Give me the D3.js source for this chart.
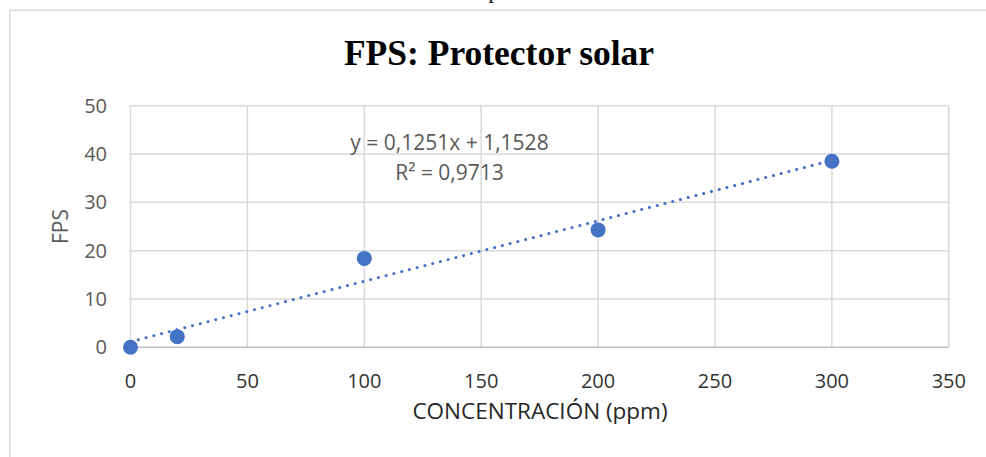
<!DOCTYPE html>
<html>
<head>
<meta charset="utf-8">
<script src="https://cdn.jsdelivr.net/npm/d3@7"></script>
<style>
  html, body { margin: 0; padding: 0; background: #fff; overflow: hidden; }
  text { font-family: "Open Sans", sans-serif; }
</style>
</head>
<body>
<div id="content"></div>
<script>
"use strict";

// values
var concentracion = [0, 20, 100, 200, 300];
var fps = [0, 2.2, 18.4, 24.3, 38.5];
var xTicks = [0, 50, 100, 150, 200, 250, 300, 350];
var yTicks = [0, 10, 20, 30, 40, 50];
var trendSlope = 0.1251;
var trendIntercept = 1.1528;
var trendLabel = ["y = 0,1251x + 1,1528", "R² = 0,9713"];

var width = 986;
var height = 457;
var blue = "#4472C4";

var svg = d3.select('#content').append('svg')
  .attr('width', width)
  .attr('height', height);

// chart frame (cut off at right and bottom)
svg.append('rect')
  .attr('x', 9.75).attr('y', 10.25)
  .attr('width', 1000).attr('height', 500)
  .attr('fill', '#fff')
  .attr('stroke', '#d9d9d9')
  .attr('stroke-width', 1.5);

// bit of the caption above, cut off
svg.append('text')
  .attr('x', 494).attr('y', -2)
  .attr('text-anchor', 'middle')
  .style('font-family', '"Liberation Serif", serif')
  .style('font-size', '22px')
  .attr('fill', '#000')
  .text('p');

var x = d3.scaleLinear().domain([0, 350]).range([130.5, 948.8]);
var y = d3.scaleLinear().domain([0, 50]).range([347.3, 105.7]);

var g = svg.append('g');

// gridlines
g.selectAll('line.hgrid')
  .data(yTicks.filter(function(d) { return d > 0; })).enter()
  .append('line')
  .attr('class', 'hgrid')
  .attr('x1', x(0)).attr('x2', x(350))
  .attr('y1', function(d) { return y(d); })
  .attr('y2', function(d) { return y(d); })
  .attr('stroke', '#d9d9d9')
  .attr('stroke-width', 1.5);

g.selectAll('line.vgrid')
  .data(xTicks).enter()
  .append('line')
  .attr('class', 'vgrid')
  .attr('x1', function(d) { return x(d); })
  .attr('x2', function(d) { return x(d); })
  .attr('y1', y(50)).attr('y2', y(0))
  .attr('stroke', '#d9d9d9')
  .attr('stroke-width', 1.5);

// x axis line
g.append('line')
  .attr('x1', x(0)).attr('x2', x(350))
  .attr('y1', y(0)).attr('y2', y(0))
  .attr('stroke', '#bfbfbf')
  .attr('stroke-width', 1.5);

// tick labels
g.selectAll('text.ytick')
  .data(yTicks).enter()
  .append('text')
  .attr('class', 'ytick')
  .attr('x', 107)
  .attr('y', function(d) { return y(d); })
  .attr('dy', '0.35em')
  .attr('text-anchor', 'end')
  .style('font-size', '20px')
  .attr('fill', '#595959')
  .text(function(d) { return d; });

g.selectAll('text.xtick')
  .data(xTicks).enter()
  .append('text')
  .attr('class', 'xtick')
  .attr('x', function(d) { return x(d); })
  .attr('y', 388)
  .attr('text-anchor', 'middle')
  .style('font-size', '20px')
  .attr('fill', '#333')
  .text(function(d) { return d; });

// trendline (dotted)
var trendX = [0, 300];
g.append('path')
  .datum(trendX)
  .attr('d', d3.line()
    .x(function(d) { return x(d); })
    .y(function(d) { return y(trendSlope * d + trendIntercept); }))
  .attr('fill', 'none')
  .attr('stroke', blue)
  .attr('stroke-width', 3)
  .attr('stroke-linecap', 'round')
  .attr('stroke-dasharray', '0.1 7.9');

// points
g.selectAll('circle')
  .data(concentracion).enter()
  .append('circle')
  .attr('cx', function(d) { return x(d); })
  .attr('cy', function(d, i) { return y(fps[i]); })
  .attr('r', 7.5)
  .attr('fill', blue);

// trendline equation
g.selectAll('text.eq')
  .data(trendLabel).enter()
  .append('text')
  .attr('class', 'eq')
  .attr('x', 449.5)
  .attr('y', function(d, i) { return 150 + i * 29.5; })
  .attr('text-anchor', 'middle')
  .style('font-size', '21px')
  .attr('fill', '#595959')
  .text(function(d) { return d; });

// title
svg.append('text')
  .attr('x', 499).attr('y', 65)
  .attr('text-anchor', 'middle')
  .style('font-family', '"Liberation Serif", "Times New Roman", serif')
  .style('font-weight', 'bold')
  .style('font-size', '35.5px')
  .attr('fill', '#000')
  .text('FPS: Protector solar');

// axis titles
svg.append('text')
  .attr('x', 540).attr('y', 419)
  .attr('text-anchor', 'middle')
  .style('font-size', '22.5px')
  .attr('fill', '#262626')
  .text('CONCENTRACIÓN (ppm)');

svg.append('text')
  .attr('transform', 'translate(68,226.5) rotate(-90)')
  .attr('text-anchor', 'middle')
  .style('font-size', '21px')
  .attr('fill', '#595959')
  .text('FPS');
</script>
</body>
</html>
